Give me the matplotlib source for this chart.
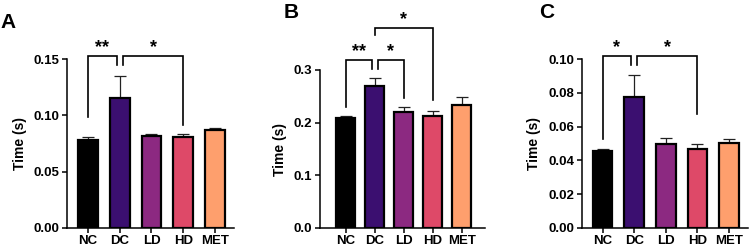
import matplotlib
matplotlib.use("Agg")
import matplotlib.pyplot as plt
from matplotlib.ticker import FormatStrFormatter
import numpy as np

plt.rcParams['font.family'] = ['Liberation Sans', 'DejaVu Sans']
plt.rcParams['font.weight'] = 'bold'

groups = ["NC", "DC", "LD", "HD", "MET"]
colors = ["#000000", "#3b0f70", "#8c2981", "#de4968", "#fe9f6d"]

a_means = [0.078, 0.115, 0.082, 0.081, 0.087]
a_errs = [0.003, 0.020, 0.001, 0.002, 0.002]
b_means = [0.208, 0.270, 0.220, 0.212, 0.233]
b_errs = [0.004, 0.014, 0.009, 0.011, 0.016]
c_means = [0.0455, 0.0775, 0.0495, 0.0467, 0.0505]
c_errs = [0.001, 0.013, 0.004, 0.003, 0.002]

a_ticks = [0.00, 0.05, 0.10, 0.15]
b_ticks = [0.0, 0.1, 0.2, 0.3]
c_ticks = [0.00, 0.02, 0.04, 0.06, 0.08, 0.10]

# comparisons: (x1, x2, top, leg1 bottom, leg2 bottom, label)
a_sig = [(0, 0.9, 0.1527, 0.0988, 0.1447, "**"),
         (1.1, 3, 0.1527, 0.1447, 0.0914, "*")]
b_sig = [(0, 0.9, 0.319, 0.2297, 0.301, "**"),
         (1.1, 2, 0.319, 0.301, 0.247, "*"),
         (1.0, 3, 0.380, 0.366, 0.243, "*")]
c_sig = [(0, 0.9, 0.1018, 0.0527, 0.0964, "*"),
         (1.1, 3, 0.1018, 0.0964, 0.0675, "*")]

fig = plt.figure(figsize=(7.52, 2.5), dpi=100)
W, H = 752, 250

def make_ax(left, right, bottom, top):
    return fig.add_axes([left / W, (H - bottom) / H, (right - left) / W, (bottom - top) / H])

panels = [
    (make_ax(67, 234, 228, 59), a_means, a_errs, a_ticks, "%.2f", a_sig, (-0.66, 4.6), 0.62, "A", (0, 13)),
    (make_ax(320, 485, 228, 70), b_means, b_errs, b_ticks, "%.1f", b_sig, (-0.88, 4.8), 0.64, "B", (284, 3)),
    (make_ax(582, 748, 228, 59), c_means, c_errs, c_ticks, "%.2f", c_sig, (-0.655, 4.6), 0.62, "C", (539, 3)),
]

for ax, means, errs, ticks, fmt, sig, xl, bw, lab, lpos in panels:
    x = np.arange(len(groups))
    ax.errorbar(x, means, yerr=[np.zeros(len(errs)), errs], fmt='none',
                ecolor='#222222', elinewidth=0.9, capsize=4, capthick=0.9, zorder=1)
    ax.bar(x, means, width=bw, color=colors, edgecolor='black', linewidth=1.6, zorder=2)
    ax.set_xlim(*xl)
    ax.set_ylim(ticks[0], ticks[-1])
    ax.set_yticks(ticks)
    ax.yaxis.set_major_formatter(FormatStrFormatter(fmt))
    ax.set_xticks(x)
    ax.set_xticklabels(groups, fontsize=9.5, fontweight='bold')
    for t in ax.get_yticklabels():
        t.set_fontsize(9.5)
        t.set_fontweight('bold')
    ax.set_ylabel("Time (s)", fontsize=10, fontweight='bold', labelpad=5)
    for s in ['top', 'right']:
        ax.spines[s].set_visible(False)
    for s in ['left', 'bottom']:
        ax.spines[s].set_linewidth(1.1)
    ax.tick_params(axis='both', width=1.1, length=3.5, pad=2)
    ax.tick_params(axis='x', pad=1.5)
    rng = ticks[-1] - ticks[0]
    for x1, x2, top, b1, b2, txt in sig:
        ax.plot([x1, x1, x2, x2], [b1, top, top, b2], color='black', lw=1.2,
                clip_on=False, solid_joinstyle='miter', zorder=3)
        ax.text((x1 + x2) / 2, top + rng * 0.0, txt, ha='center', va='bottom',
                fontsize=13, fontweight='bold', clip_on=False)
    fig.text(lpos[0] / W, 1 - lpos[1] / H, lab, fontsize=15, fontweight='bold',
             ha='left', va='top')

fig.savefig("out.png", dpi=100)
